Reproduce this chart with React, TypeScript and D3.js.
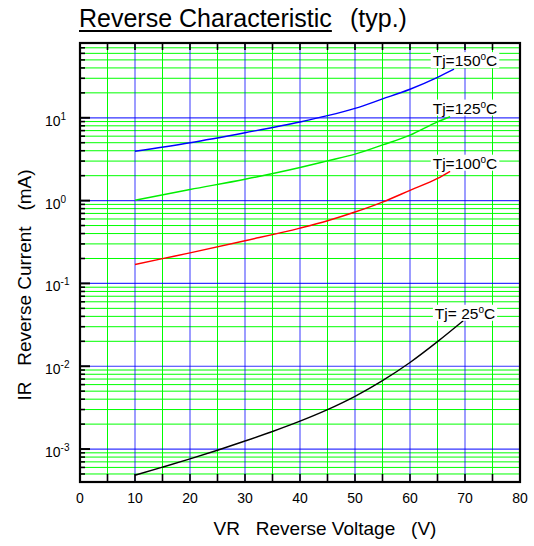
import React, { useEffect, useRef } from "react";
import * as d3 from "d3";

// ---- data ----
const xTicks = [0, 10, 20, 30, 40, 50, 60, 70, 80];
const yDecades = [-3, -2, -1, 0, 1];

const v150 = [10, 20, 30, 40, 45, 50, 55, 60, 65, 68];
const i150 = [3.95, 5.0, 6.6, 8.9, 10.6, 13.0, 16.9, 22.1, 30.8, 38.6];

const v125 = [10, 20, 30, 40, 45, 50, 55, 60, 65, 67.3];
const i125 = [1.01, 1.36, 1.81, 2.51, 3.02, 3.64, 4.7, 6.17, 8.95, 10.3];

const v100 = [10, 15, 20, 30, 40, 45, 50, 55, 60, 65, 67.3];
const i100 = [0.169, 0.199, 0.234, 0.328, 0.466, 0.571, 0.728, 0.96, 1.33, 1.85, 2.26];

const v25 = [10, 15, 20, 25, 30, 35, 40, 45, 50, 55, 60, 65, 69.7];
const i25 = [4.83e-4, 6.04e-4, 7.6e-4, 9.68e-4, 1.25e-3, 1.63e-3, 2.17e-3, 2.99e-3, 4.33e-3, 6.7e-3, 1.11e-2, 1.98e-2, 3.55e-2];

const seriesNames = ["150", "125", "100", " 25"];
const seriesColors = ["#0000ff", "#00ee00", "#ff0000", "#000000"];
const seriesV = [v150, v125, v100, v25];
const seriesI = [i150, i125, i100, i25];
const labelAt = [49, 13.1, 2.83, 0.0436];

const FONT = "'Liberation Sans', Arial, Helvetica, sans-serif";

export default function App() {
  const ref = useRef<SVGSVGElement | null>(null);

  useEffect(() => {
    const svg = d3.select(ref.current);
    svg.selectAll("*").remove();

    const L = 80, R = 520, T = 43, B = 482;
    const x = d3.scaleLinear().domain([0, 80]).range([L, R]);
    const y = d3.scaleLog().domain([4e-4, 80]).range([B, T]);

    svg.append("rect").attr("width", 534).attr("height", 546).attr("fill", "#fff");

    const grid = svg.append("g");
    const minorY: number[] = [];
    const majorY: number[] = [];
    for (let e = -4; e <= 1; e++) {
      for (let m = 1; m <= 9; m++) {
        const v = m * Math.pow(10, e);
        if (v <= 4e-4 * 1.0001 || v >= 80 * 0.9999) continue;
        if (m === 1) majorY.push(v); else minorY.push(v);
      }
    }
    grid.selectAll(".hm").data(minorY).join("line")
      .attr("x1", L).attr("x2", R)
      .attr("y1", (d) => y(d)).attr("y2", (d) => y(d))
      .attr("stroke", "#00ff00").attr("stroke-width", 1);
    const vx = d3.range(5, 80, 5);
    grid.selectAll(".vg").data(vx.filter((d) => d % 10 !== 0)).join("line")
      .attr("x1", (d) => x(d)).attr("x2", (d) => x(d))
      .attr("y1", T).attr("y2", B)
      .attr("stroke", "#00ff00").attr("stroke-width", 1);
    grid.selectAll(".vb").data(vx.filter((d) => d % 10 === 0)).join("line")
      .attr("x1", (d) => x(d)).attr("x2", (d) => x(d))
      .attr("y1", T).attr("y2", B)
      .attr("stroke", "#0000ff").attr("stroke-opacity", 0.6).attr("stroke-width", 1.3);
    grid.selectAll(".hb").data(majorY).join("line")
      .attr("x1", L).attr("x2", R)
      .attr("y1", (d) => y(d)).attr("y2", (d) => y(d))
      .attr("stroke", "#0000ff").attr("stroke-opacity", 0.8).attr("stroke-width", 1.2);

    // curves
    const line = d3.line<[number, number]>()
      .x((d) => x(d[0])).y((d) => y(d[1]))
      .curve(d3.curveMonotoneX);
    seriesV.forEach((vs, k) => {
      const pts = vs.map((v, j) => [v, seriesI[k][j]] as [number, number]);
      svg.append("path").attr("d", line(pts) as string)
        .attr("fill", "none").attr("stroke", seriesColors[k]).attr("stroke-width", 1.4);
    });

    // curve labels
    seriesNames.forEach((nm, k) => {
      const g = svg.append("g");
      const cy = y(labelAt[k]);
      const t = g.append("text")
        .attr("x", x(70)).attr("y", cy + 5.5)
        .attr("text-anchor", "middle")
        .attr("font-family", FONT).attr("font-size", 15.5)
        .style("white-space", "pre");
      t.append("tspan").text("Tj=" + nm);
      t.append("tspan").attr("font-size", 10).attr("dy", -6).text("o");
      t.append("tspan").attr("dy", 6).text("C");
      const bb = (t.node() as SVGTextElement).getBBox();
      g.insert("rect", "text")
        .attr("x", bb.x - 2).attr("y", bb.y + 1)
        .attr("width", bb.width + 4).attr("height", bb.height - 2)
        .attr("fill", "#fff");
    });

    // axes frame
    const axes = svg.append("g").attr("stroke", "#000");
    const tk = d3.range(5, 80, 5);
    axes.selectAll(".tb").data(tk).join("line")
      .attr("x1", (d) => x(d)).attr("x2", (d) => x(d))
      .attr("y1", B).attr("y2", B - 8).attr("stroke-width", 1.6);
    axes.selectAll(".tt").data(tk).join("line")
      .attr("x1", (d) => x(d)).attr("x2", (d) => x(d))
      .attr("y1", T).attr("y2", T + 7).attr("stroke-width", 1.6);
    axes.selectAll(".tlm").data(minorY).join("line")
      .attr("x1", L).attr("x2", L + 5)
      .attr("y1", (d) => y(d)).attr("y2", (d) => y(d)).attr("stroke-width", 1.6);
    axes.selectAll(".tlM").data(majorY).join("line")
      .attr("x1", L).attr("x2", L + 10)
      .attr("y1", (d) => y(d)).attr("y2", (d) => y(d)).attr("stroke-width", 2);
    axes.append("rect").attr("x", L).attr("y", T).attr("width", R - L).attr("height", B - T)
      .attr("fill", "none").attr("stroke-width", 2.2);

    // x tick labels
    svg.selectAll(".xl").data(xTicks).join("text")
      .attr("x", (d) => x(d)).attr("y", B + 21)
      .attr("text-anchor", "middle")
      .attr("font-family", FONT).attr("font-size", 14)
      .text((d) => String(d));

    // y tick labels
    yDecades.forEach((e) => {
      const t = svg.append("text")
        .attr("x", 45).attr("y", y(Math.pow(10, e)) + 8)
        .attr("font-family", FONT).attr("font-size", 14);
      t.append("tspan").text("10");
      t.append("tspan").attr("font-size", 10).attr("dy", -6).text(String(e));
    });

    // axis titles
    svg.append("text")
      .attr("x", 325).attr("y", 535)
      .attr("text-anchor", "middle")
      .attr("font-family", FONT).attr("font-size", 19)
      .style("white-space", "pre")
      .text("VR   Reverse Voltage   (V)");
    svg.append("text")
      .attr("transform", "translate(31,285) rotate(-90)")
      .attr("text-anchor", "middle")
      .attr("font-family", FONT).attr("font-size", 19)
      .style("white-space", "pre")
      .text("IR   Reverse Current   (mA)");

    // title
    const title = svg.append("text")
      .attr("x", 79).attr("y", 27)
      .attr("font-family", FONT).attr("font-size", 25);
    title.append("tspan").attr("id", "ttl").text("Reverse Characteristic");
    title.append("tspan").attr("x", 350).text("(typ.)");
    const tl = ((title.select("#ttl").node()) as SVGTSpanElement).getComputedTextLength();
    svg.append("line").attr("x1", 79).attr("x2", 79 + tl)
      .attr("y1", 31).attr("y2", 31).attr("stroke", "#000").attr("stroke-width", 2);
  }, []);

  return (
    <svg
      ref={ref}
      width={534}
      height={546}
      style={{ position: "absolute", left: 0, top: 0 }}
    />
  );
}
